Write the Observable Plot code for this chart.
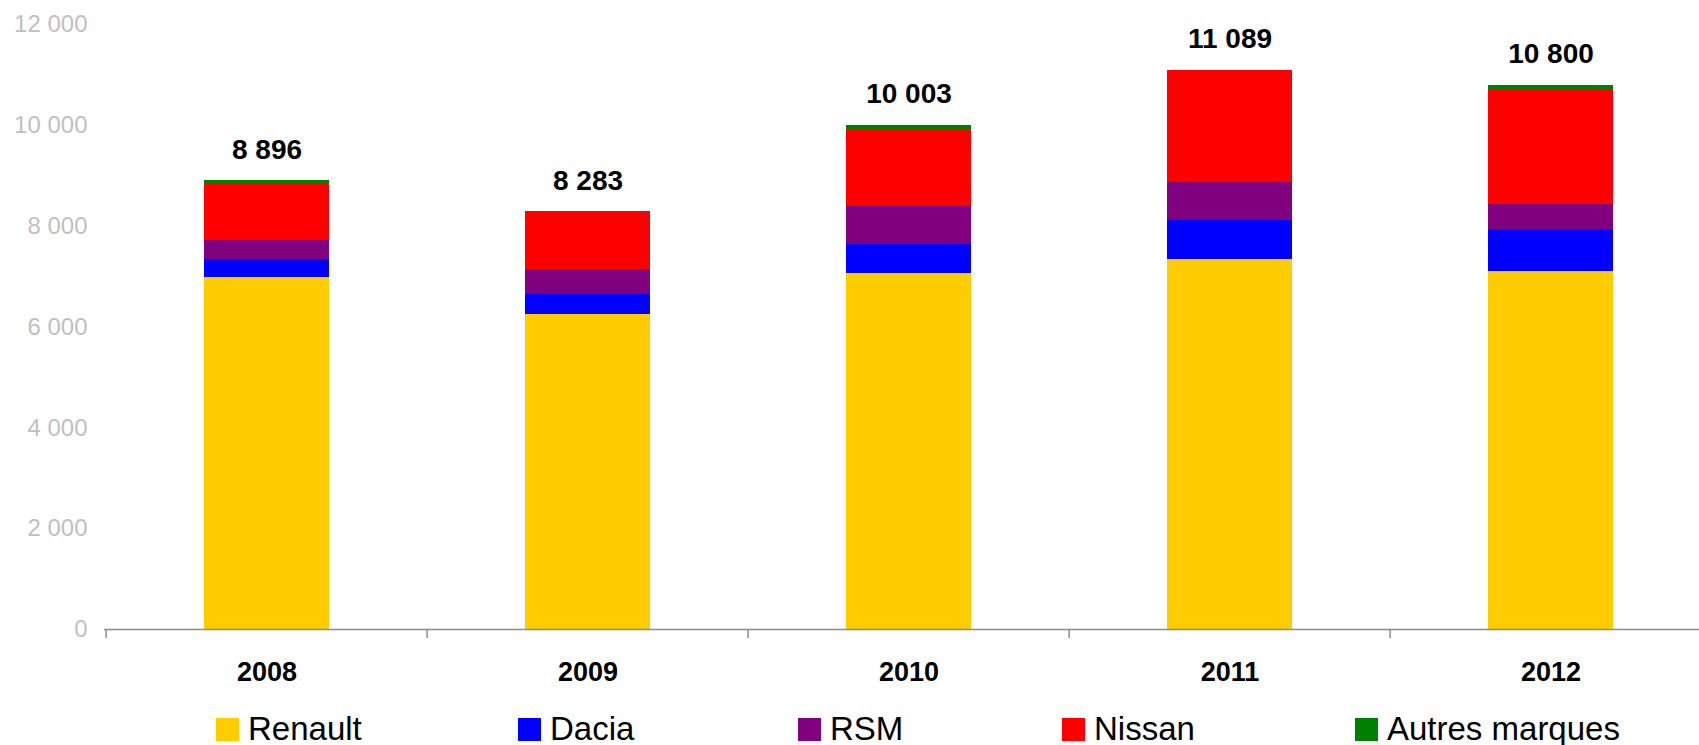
<!DOCTYPE html>
<html>
<head>
<meta charset="utf-8">
<script src="https://cdn.jsdelivr.net/npm/d3@7"></script>
<script src="https://cdn.jsdelivr.net/npm/@observablehq/plot@0.6"></script>
<style>
  html, body { margin: 0; padding: 0; background: #fff; overflow: hidden; }
  body { width: 1699px; height: 745px; font-family: "Liberation Sans", Arial, sans-serif; }
  #legend { position: relative; width: 1699px; height: 45px; }
  .item { position: absolute; top: 18px; height: 23px; display: flex; align-items: center; }
  .sw { width: 23px; height: 23px; margin-right: 9px; flex: none; }
  .lab { font-size: 33px; line-height: 23px; color: #000; white-space: nowrap; position: relative; top: -1px; }
</style>
</head>
<body>
<div id="chart"></div>
<div id="legend"></div>
<script>
// ---- data ----
const years = ["2008", "2009", "2010", "2011", "2012"];
const brands = ["Renault", "Dacia", "RSM", "Nissan", "Autres marques"];
const renault = [6990, 6240, 7070, 7330, 7110];
const dacia = [355, 395, 575, 790, 830];
const rsm = [375, 515, 750, 750, 495];
const nissan = [1110, 1133, 1525, 2219, 2278];
const autres = [66, 0, 83, 0, 87];
const totals = [8896, 8283, 10003, 11089, 10800];
const yTicks = [0, 2000, 4000, 6000, 8000, 10000, 12000];
const colors = ["#FFCC00", "#0000FF", "#800080", "#FF0000", "#008000"];

// ---- build tidy table ----
const series = [renault, dacia, rsm, nissan, autres];
const table = [];
brands.forEach((b, k) => years.forEach((y, i) => table.push({year: y, brand: b, value: series[k][i]})));
const totalRows = years.map((y, i) => ({year: y, total: totals[i]}));

const fr = d3.formatLocale({decimal: ",", thousands: " ", grouping: [3], currency: ["", ""]});
const fmt = fr.format(",d");

// ---- layout ----
const W = 1699, H = 700;
const xRange = [103.6, 1712.4];
const step = (xRange[1] - xRange[0]) / years.length;
const padIn = 0.6115;
const font = "'Liberation Sans', Arial, sans-serif";

const chart = Plot.plot({
  width: W,
  height: H,
  marginLeft: 104,
  marginRight: 0,
  marginTop: 24,
  marginBottom: H - 629,
  style: {fontFamily: font, background: "#fff", overflow: "visible"},
  x: {domain: years, range: xRange, paddingInner: padIn, paddingOuter: padIn / 2, label: null},
  y: {domain: [0, 12000], label: null},
  color: {domain: brands, range: colors},
  marks: [
    Plot.barY(table, {x: "year", y: "value", fill: "brand", shapeRendering: "crispEdges"}),
    Plot.ruleY([0], {stroke: "#8c8c8c", strokeWidth: 1.5}),
    Plot.ruleX(years, {x: d => d, dx: -step / 2, y1: 0, y2: 0, insetBottom: -9, stroke: "#8c8c8c", strokeWidth: 1.5}),
    Plot.axisY({ticks: yTicks, tickSize: 0, tickPadding: 17, tickFormat: fmt, fontSize: 24, fill: "#bfbfbf", label: null}),
    Plot.axisX({tickSize: 0, tickPadding: 32, fontSize: 27, fontWeight: "bold", fill: "#000", label: null}),
    Plot.text(totalRows, {x: "year", y: "total", text: d => fmt(d.total), dy: -31, fontSize: 28, fontWeight: "bold", fill: "#000"})
  ]
});
document.getElementById("chart").appendChild(chart);

// ---- legend ----
const legendLeft = [216, 518, 798, 1062, 1355];
const legend = document.getElementById("legend");
brands.forEach((b, k) => {
  const it = document.createElement("div");
  it.className = "item";
  it.style.left = legendLeft[k] + "px";
  const sw = document.createElement("div");
  sw.className = "sw";
  sw.style.background = colors[k];
  const lab = document.createElement("span");
  lab.className = "lab";
  lab.textContent = b;
  it.appendChild(sw);
  it.appendChild(lab);
  legend.appendChild(it);
});
</script>
</body>
</html>
